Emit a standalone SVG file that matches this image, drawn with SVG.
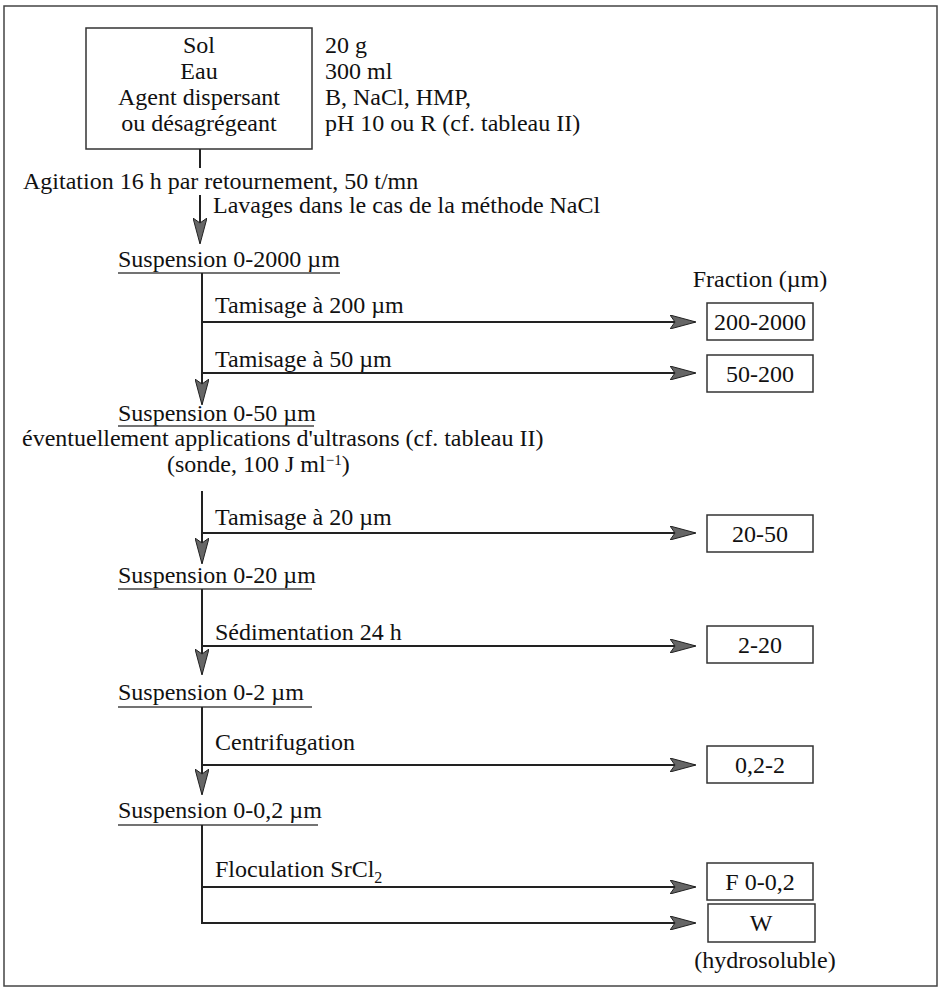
<svg xmlns="http://www.w3.org/2000/svg" width="947" height="993" viewBox="0 0 947 993">
<defs>
<style>
text{font-family:"Liberation Serif","Times New Roman",serif;font-size:24px;fill:#111}
.c{text-anchor:middle}
.ln{stroke:#222;stroke-width:2;fill:none}
.ul{stroke:#444;stroke-width:1.3}
.bx{fill:#fff;stroke:#333;stroke-width:1.5}
</style>
<marker id="ah" viewBox="0 0 26 14" refX="25" refY="7" markerWidth="26" markerHeight="14" markerUnits="userSpaceOnUse" orient="auto">
<path d="M0,0 L26,7 L0,14 L5,7 Z" fill="#666" stroke="#222" stroke-width="1"/>
</marker>
</defs>
<rect x="4" y="6" width="933" height="980" fill="#fff" stroke="#444" stroke-width="1.5"/>

<g id="start">
<rect class="bx" x="86" y="28" width="226" height="121"/>
<text class="c" x="199" y="53">Sol</text>
<text class="c" x="199" y="79">Eau</text>
<text class="c" x="199" y="105">Agent dispersant</text>
<text class="c" x="199" y="131">ou désagrégeant</text>
<text x="325" y="53">20 g</text>
<text x="325" y="79">300 ml</text>
<text x="325" y="105">B, NaCl, HMP,</text>
<text x="325" y="131">pH 10 ou R (cf. tableau II)</text>
</g>

<g id="agitation">
<text x="23" y="189">Agitation 16 h par retournement, 50 t/mn</text>
<text x="213" y="213">Lavages dans le cas de la méthode NaCl</text>
</g>

<g id="s2000">
<text x="118" y="267">Suspension 0-2000 µm</text>
<line class="ul" x1="118" y1="273" x2="340" y2="273"/>
</g>
<g id="s50">
<text x="118" y="421">Suspension 0-50 µm</text>
<line class="ul" x1="118" y1="426" x2="314" y2="426"/>
<text x="22" y="446">éventuellement applications d'ultrasons (cf. tableau II)</text>
<text x="167" y="472">(sonde, 100 J ml<tspan font-size="15" dy="-7">−1</tspan><tspan dy="7">)</tspan></text>
</g>
<g id="s20">
<text x="118" y="583">Suspension 0-20 µm</text>
<line class="ul" x1="118" y1="589" x2="312" y2="589"/>
</g>
<g id="s2">
<text x="118" y="700">Suspension 0-2 µm</text>
<line class="ul" x1="118" y1="707" x2="312" y2="707"/>
</g>
<g id="s02">
<text x="118" y="818">Suspension 0-0,2 µm</text>
<line class="ul" x1="118" y1="825" x2="318" y2="825"/>
</g>

<g id="steps">
<text x="215" y="313">Tamisage à 200 µm</text>
<text x="215" y="367">Tamisage à 50 µm</text>
<text x="215" y="525">Tamisage à 20 µm</text>
<text x="215" y="640">Sédimentation 24 h</text>
<text x="215" y="750">Centrifugation</text>
<text x="215" y="877">Floculation SrCl<tspan font-size="16" dy="6">2</tspan></text>
</g>

<g id="fractions">
<text class="c" x="760" y="287">Fraction (µm)</text>
<g id="f200-2000"><rect class="bx" x="707" y="303" width="106" height="37"/><text class="c" x="760" y="330">200-2000</text></g>
<g id="f50-200"><rect class="bx" x="707" y="355" width="106" height="37"/><text class="c" x="760" y="382">50-200</text></g>
<g id="f20-50"><rect class="bx" x="707" y="515" width="106" height="37"/><text class="c" x="760" y="542">20-50</text></g>
<g id="f2-20"><rect class="bx" x="707" y="626" width="106" height="37"/><text class="c" x="760" y="653">2-20</text></g>
<g id="f02-2"><rect class="bx" x="707" y="746" width="106" height="37"/><text class="c" x="760" y="773">0,2-2</text></g>
<g id="fF"><rect class="bx" x="707" y="863" width="106" height="37"/><text class="c" x="760" y="890">F 0-0,2</text></g>
<g id="fW"><rect class="bx" x="708" y="904" width="107" height="38"/><text class="c" x="761" y="931">W</text>
<text class="c" x="765" y="968">(hydrosoluble)</text></g>
</g>

<g id="connectors">
<line class="ln" x1="200" y1="149" x2="200" y2="168"/>
<line class="ln" x1="200" y1="195" x2="200" y2="243" marker-end="url(#ah)"/>
<line class="ln" x1="202" y1="273" x2="202" y2="404" marker-end="url(#ah)"/>
<line class="ln" x1="202" y1="322" x2="695" y2="322" marker-end="url(#ah)"/>
<line class="ln" x1="202" y1="373" x2="695" y2="373" marker-end="url(#ah)"/>
<line class="ln" x1="202" y1="491" x2="202" y2="563" marker-end="url(#ah)"/>
<line class="ln" x1="202" y1="533" x2="695" y2="533" marker-end="url(#ah)"/>
<line class="ln" x1="202" y1="589" x2="202" y2="674" marker-end="url(#ah)"/>
<line class="ln" x1="202" y1="646" x2="695" y2="646" marker-end="url(#ah)"/>
<line class="ln" x1="202" y1="707" x2="202" y2="794" marker-end="url(#ah)"/>
<line class="ln" x1="202" y1="765" x2="695" y2="765" marker-end="url(#ah)"/>
<polyline class="ln" points="202,825 202,923 695,923" marker-end="url(#ah)"/>
<line class="ln" x1="202" y1="887" x2="695" y2="887" marker-end="url(#ah)"/>
</g>
</svg>
